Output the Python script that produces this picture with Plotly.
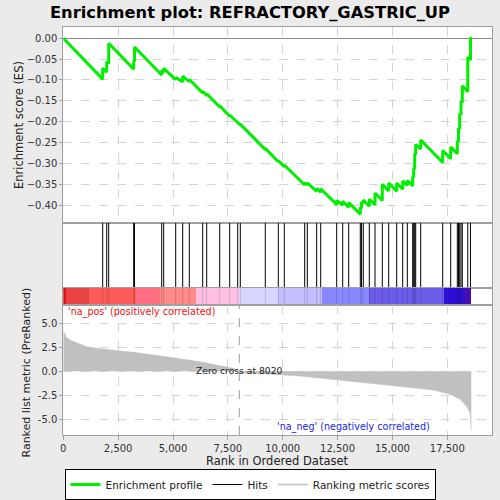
import plotly.graph_objects as go

# ---------------- data ----------------
n_genes = 18593
zero_cross = 8020

hit_ranks = [1795, 1978, 2069, 3208, 3245, 4484, 4575, 5122, 5441, 5742,
             6352, 6535, 7127, 7583, 7947, 8066, 9205, 9798, 10071, 11000,
             11119, 11547, 11730, 12459, 12732, 13006, 13535, 13590, 13671, 13945,
             14205, 14537, 14829, 15193, 15467, 15677, 15922, 15967, 16013, 16059,
             16287, 17289, 17654, 17955, 18010, 18064, 18124, 18183, 18433, 18556]

# ES value just before and just after each hit
es_before = [-0.098, -0.081, -0.061, -0.074, -0.056, -0.088, -0.082, -0.099, -0.104, -0.104,
             -0.131, -0.137, -0.165, -0.187, -0.204, -0.208, -0.267, -0.296, -0.308, -0.352,
             -0.352, -0.367, -0.369, -0.399, -0.400, -0.406, -0.422, -0.408, -0.396, -0.403,
             -0.399, -0.389, -0.366, -0.367, -0.362, -0.353, -0.354, -0.334, -0.314, -0.279,
             -0.265, -0.298, -0.289, -0.277, -0.248, -0.218, -0.184, -0.154, -0.128, -0.052]
es_after = [-0.072, -0.056, -0.012, -0.054, -0.021, -0.077, -0.072, -0.094, -0.091, -0.099,
            -0.127, -0.133, -0.162, -0.184, -0.202, -0.206, -0.264, -0.293, -0.304, -0.346,
            -0.347, -0.360, -0.361, -0.389, -0.391, -0.394, -0.405, -0.392, -0.388, -0.386,
            -0.371, -0.350, -0.347, -0.347, -0.342, -0.341, -0.332, -0.312, -0.277, -0.255,
            -0.244, -0.269, -0.261, -0.245, -0.215, -0.181, -0.151, -0.114, -0.045, 0.002]

metric_ranks = [0, 150, 380, 760, 1065, 1670, 3190, 4710, 6230, 7750, 8020,
                8021, 9270, 10786, 12306, 13826, 15346, 16866, 17627, 18083, 18387, 18537, 18593]
metric_values = [4.23, 3.5, 3.18, 2.84, 2.56, 2.35, 1.97, 1.51, 0.99, 0.30, 0.0,
                 -0.2, -0.30, -0.51, -0.86, -1.2, -1.55, -1.97, -2.42, -2.94, -3.7, -4.4, -6.2]

band_starts = [0, 152, 1185, 3342, 4400, 6076, 8020, 9797, 11817, 13929, 17346, 18300]
band_ends = [152, 1185, 3342, 4400, 6076, 8020, 9797, 11817, 13929, 17346, 18300, 18593]
band_colors = ['#dd1111', '#e84444', '#ff5a5a', '#ff6e80', '#ff8a8a', '#ffc0e4',
               '#d6d6ff', '#c6bfff', '#8888ff', '#6c5cea', '#2e10d4', '#4a10b0']

es_ticks = [0.0, -0.05, -0.10, -0.15, -0.20, -0.25, -0.30, -0.35, -0.40]
metric_ticks = [5.0, 2.5, 0.0, -2.5, -5.0]
rank_ticks = [0, 2500, 5000, 7500, 10000, 12500, 15000, 17500]

# ---------------- build ----------------
es_x = [0]
es_y = [0.0]
for r, b, a in zip(hit_ranks, es_before, es_after):
    es_x += [r, r]
    es_y += [b, a]
es_x.append(n_genes)
es_y.append(0.0)

hx, hy = [], []
for r in hit_ranks:
    hx += [r, r, None]
    hy += [0, 1, None]

FONT = "DejaVu Sans"
GRID = '#d4d4d4'
BORDER = '#a0a0a0'
XR = [0, 19550]
TICKF = dict(size=10, color='#333')

fig = go.Figure()

fig.add_trace(go.Scatter(x=es_x, y=es_y, mode='lines', xaxis='x', yaxis='y',
                         line=dict(color='#00ee00', width=3), name='Enrichment profile'))
fig.add_trace(go.Scatter(x=hx, y=hy, mode='lines', xaxis='x2', yaxis='y2',
                         line=dict(color='black', width=1), name='Hits'))
fig.add_trace(go.Bar(x=[(s + e) / 2 for s, e in zip(band_starts, band_ends)],
                     width=[e - s for s, e in zip(band_starts, band_ends)],
                     y=[1] * len(band_starts), base=0,
                     marker=dict(color=band_colors, line=dict(width=0)),
                     xaxis='x3', yaxis='y3', showlegend=False, hoverinfo='skip'))
fig.add_trace(go.Scatter(x=hx, y=hy, mode='lines', xaxis='x3', yaxis='y3',
                         line=dict(color='rgba(0,0,0,0.15)', width=1), showlegend=False))
fig.add_trace(go.Scatter(x=metric_ranks, y=metric_values, mode='lines', fill='tozeroy',
                         fillcolor='#c0c0c0', line=dict(color='#c0c0c0', width=0.5),
                         xaxis='x4', yaxis='y4', showlegend=False))
fig.add_trace(go.Scatter(x=[None], y=[None], mode='lines', xaxis='x4', yaxis='y4',
                         line=dict(color='#c0c0c0', width=1.5), name='Ranking metric scores'))

xd = [0.1266, 0.9846]
common_x = dict(range=XR, domain=xd, showline=True, mirror=True, linecolor=BORDER,
                zeroline=False, fixedrange=True, automargin=False)

fig.update_layout(
    width=500, height=500,
    margin=dict(l=0, r=0, t=0, b=0, autoexpand=False),
    paper_bgcolor='#ebebeb', plot_bgcolor='white',
    font=dict(family=FONT, size=10, color='#222'),
    bargap=0,
    title=dict(text='<b>Enrichment plot: REFRACTORY_GASTRIC_UP</b>', x=0.5, xanchor='center',
               y=0.975, yanchor='middle', font=dict(family=FONT, size=16.3, color='black')),
    xaxis=dict(**common_x, anchor='y', showticklabels=False, showgrid=True,
               gridcolor=GRID, griddash='dash', tickvals=rank_ticks, ticks=''),
    yaxis=dict(domain=[0.554, 0.946], range=[-0.443, 0.027], tickvals=es_ticks,
               tickformat='.2f', showgrid=True, gridcolor=GRID, griddash='dash',
               zeroline=True, zerolinecolor='#888', zerolinewidth=1, automargin=False,
               showline=True, mirror=True, linecolor=BORDER, ticks='outside', ticklen=3,
               tickcolor=BORDER, tickfont=TICKF, anchor='x'),
    xaxis2=dict(**common_x, anchor='y2', showticklabels=False, showgrid=False, ticks=''),
    yaxis2=dict(domain=[0.424, 0.554], range=[0, 1], showticklabels=False, showgrid=False,
                automargin=False,
                showline=True, mirror=True, linecolor=BORDER, zeroline=False, anchor='x2'),
    xaxis3=dict(**common_x, anchor='y3', showticklabels=False, showgrid=False, ticks=''),
    yaxis3=dict(domain=[0.39, 0.424], range=[0, 1], showticklabels=False, showgrid=False,
                automargin=False,
                showline=True, mirror=True, linecolor=BORDER, zeroline=False, anchor='x3'),
    xaxis4=dict(**common_x, anchor='y4', showgrid=True, gridcolor=GRID, griddash='dash',
                tickvals=rank_ticks, tickformat=',', ticks='outside', ticklen=4,
                tickcolor=BORDER, tickfont=TICKF),
    yaxis4=dict(domain=[0.13, 0.39], range=[-6.67, 6.91], tickvals=metric_ticks,
                ticktext=['5.0', '2.5', '0.0', '-2.5', '-5.0'], automargin=False,
                showgrid=True, gridcolor=GRID, griddash='dash', zeroline=False,
                showline=True, mirror=True, linecolor=BORDER, ticks='outside', ticklen=3,
                tickcolor=BORDER, tickfont=TICKF, anchor='x4'),
    legend=dict(orientation='h', x=0.5, xanchor='center', y=0.0, yanchor='bottom',
                bordercolor='black', borderwidth=1, bgcolor='white',
                font=dict(size=10.5, color='#222'), itemwidth=30,
                tracegroupgap=0),
    showlegend=True,
)

fig.add_shape(type='line', x0=zero_cross, x1=zero_cross, y0=0, y1=1,
              xref='x4', yref='y4 domain', line=dict(color='#999', width=1, dash='dash'))

fig.add_annotation(text='Enrichment score (ES)', x=0.038, y=0.75, xref='paper', yref='paper',
                   xanchor='center', yanchor='middle',
                   textangle=-90, showarrow=False, font=dict(size=11.5, color='#222'))
fig.add_annotation(text='Ranked list metric (PreRanked)', x=0.052, y=0.255, xref='paper',
                   yref='paper', xanchor='center', yanchor='middle', textangle=-90,
                   showarrow=False, font=dict(size=11, color='#222'))
fig.add_annotation(text='Rank in Ordered Dataset', x=0.5556, y=0.0786, xref='paper',
                   yref='paper', xanchor='center', yanchor='middle', showarrow=False,
                   font=dict(size=11.5, color='#222'))
fig.add_annotation(text="'na_pos' (positively correlated)", x=0.132, y=0.3766, xref='paper',
                   yref='paper', xanchor='left', yanchor='middle', showarrow=False,
                   font=dict(size=9.6, color='#ee1111'))
fig.add_annotation(text='Zero cross at ' + str(zero_cross), x=zero_cross, y=0.2586, xref='x4',
                   yref='paper', xanchor='center', yanchor='middle', showarrow=False,
                   font=dict(size=9.2, color='#222'))
fig.add_annotation(text="'na_neg' (negatively correlated)", x=0.7067, y=0.1466, xref='paper',
                   yref='paper', xanchor='center', yanchor='middle', showarrow=False,
                   font=dict(size=9.6, color='#2222ee'))

fig.write_html("out.html", config={'displayModeBar': False},
               post_script="document.body.style.margin='0px';")
